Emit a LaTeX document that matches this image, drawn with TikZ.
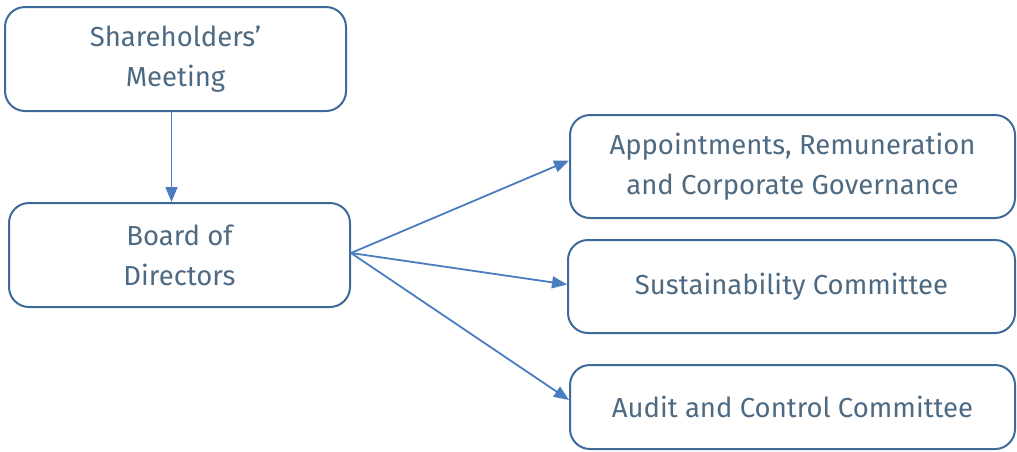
\documentclass[tikz,border=0pt]{standalone}
\usepackage{fontspec}
\setmainfont{Fira Sans}
\usepackage{xcolor}
\usetikzlibrary{positioning, arrows.meta}

\definecolor{boxline}{HTML}{3E6A9A}
\definecolor{linkcol}{HTML}{4A7CC0}
\definecolor{boxtext}{HTML}{4E6A82}

\begin{document}
\begin{tikzpicture}[
        x=1pt, y=-1pt,
        box/.style={rectangle, draw=boxline, line width=2pt, rounded corners=20pt, text=boxtext, align=center, inner sep=0pt, font=\fontsize{27.5}{40}\selectfont},
        link/.style={draw=linkcol, line width=1.8pt, -{Triangle[length=15pt, width=12pt]}},
        every node/.style={anchor=center}
        ]

        \useasboundingbox (0,0) rectangle (1017,451);

        % Boxes
        \node[box, minimum width=341pt, minimum height=104pt] (meeting) at (175.5,59) {Shareholders’\\Meeting};
        \node[box, minimum width=341pt, minimum height=104pt] (board) at (179.5,255) {Board of\\Directors};
        \node[box, minimum width=445pt, minimum height=103pt] (appoint) at (792.5,166.5) {Appointments, Remuneration\\and Corporate Governance};
        \node[box, minimum width=447pt, minimum height=93pt] (sustain) at (791.5,286.5) {Sustainability Committee};
        \node[box, minimum width=445pt, minimum height=84pt] (audit) at (792.5,407) {Audit and Control Committee};

        % Links
        \coordinate (fork) at ([yshift=2pt]board.east);
        \draw[link] ([xshift=-4pt]meeting.south) -- ([xshift=-8pt]board.north);
        \draw[link] (fork) -- ([yshift=6pt]appoint.west);
        \draw[link] (fork) -- ([yshift=2pt]sustain.west);
        \draw[link] (fork) -- ([yshift=7pt]audit.west);

    \end{tikzpicture}
\end{document}
